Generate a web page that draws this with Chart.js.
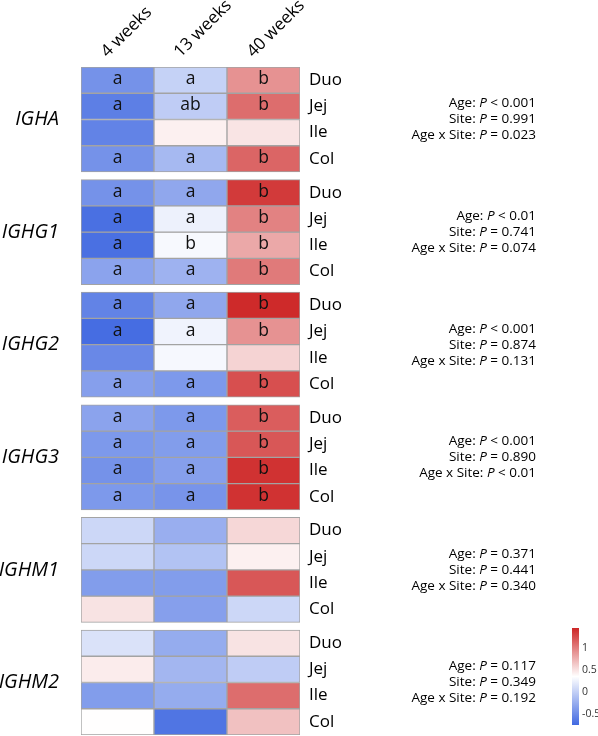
<!DOCTYPE html>
<html lang="en">
<head>
<meta charset="UTF-8">
<title>IGH heatmap</title>
<script src="https://cdn.jsdelivr.net/npm/chart.js"></script>
<style>
  html, body { margin: 0; padding: 0; background: #fff; }
  #wrap { width: 598px; height: 736px; }
</style>
</head>
<body>
<div id="wrap"><canvas id="heat" width="598" height="736"></canvas></div>
<script>
// columns, rows and blocks
const weeks = ['4 weeks', '13 weeks', '40 weeks'];
const sites = ['Duo', 'Jej', 'Ile', 'Col'];
const genes = ['IGHA', 'IGHG1', 'IGHG2', 'IGHG3', 'IGHM1', 'IGHM2'];

// scaled expression, one row per site: [4 wk, 13 wk, 40 wk]
const igha  = [[-0.45,  0.02, 0.91], [-0.59, -0.02, 1.10], [-0.56,  0.43, 0.49], [-0.45, -0.16, 1.14]];
const ighg1 = [[-0.45, -0.29, 1.36], [-0.70,  0.25, 0.99], [-0.70,  0.31, 0.80], [-0.32, -0.21, 1.03]];
const ighg2 = [[-0.56, -0.29, 1.44], [-0.72,  0.27, 0.91], [-0.52,  0.30, 0.58], [-0.35, -0.40, 1.25]];
const ighg3 = [[-0.32, -0.40, 1.18], [-0.40, -0.37, 1.21], [-0.45, -0.35, 1.40], [-0.40, -0.43, 1.40]];
const ighm1 = [[ 0.06, -0.24, 0.56], [ 0.06, -0.09, 0.43], [-0.37, -0.37, 1.21], [ 0.50, -0.35, 0.06]];
const ighm2 = [[ 0.14, -0.26, 0.50], [ 0.45, -0.18, -0.02], [-0.37, -0.26, 1.10], [ 0.36, -0.66, 0.67]];
const values = [igha, ighg1, ighg2, ighg3, ighm1, ighm2];

// significance letters
const lettersIgha  = [['a', 'a', 'b'], ['a', 'ab', 'b'], ['', '', ''], ['a', 'a', 'b']];
const lettersIghg1 = [['a', 'a', 'b'], ['a', 'a', 'b'], ['a', 'b', 'b'], ['a', 'a', 'b']];
const lettersIghg2 = [['a', 'a', 'b'], ['a', 'a', 'b'], ['', '', ''], ['a', 'a', 'b']];
const lettersIghg3 = [['a', 'a', 'b'], ['a', 'a', 'b'], ['a', 'a', 'b'], ['a', 'a', 'b']];
const lettersNone  = [['', '', ''], ['', '', ''], ['', '', ''], ['', '', '']];
const letters = [lettersIgha, lettersIghg1, lettersIghg2, lettersIghg3, lettersNone, lettersNone];

// two-way anova p values
const ageP   = ['< 0.001', '< 0.01', '< 0.001', '< 0.001', '= 0.371', '= 0.117'];
const siteP  = ['= 0.991', '= 0.741', '= 0.874', '= 0.890', '= 0.441', '= 0.349'];
const interP = ['= 0.023', '= 0.074', '= 0.131', '< 0.01', '= 0.340', '= 0.192'];

// colour key
const legendTicks = [1, 0.5, 0, -0.5];
const colorMin = -0.75;
const colorMax = 1.46;

const blockGap = 0.29;
const FONT = '"Open Sans", "Noto Sans", sans-serif';

function heatColor(v) {
    const mid = (colorMin + colorMax) / 2;
    let t, c0, c1;
    if (v < mid) {
        t = (v - colorMin) / (mid - colorMin);
        c0 = [65, 105, 225]; c1 = [255, 255, 255];
    } else {
        t = (v - mid) / (colorMax - mid);
        c0 = [255, 255, 255]; c1 = [205, 38, 38];
    }
    t = Math.max(0, Math.min(1, t));
    const c = c0.map((a, i) => Math.round(a + (c1[i] - a) * t));
    return 'rgb(' + c.join(',') + ')';
}

function rowTop(gi, si) {
    return gi * (sites.length + blockGap) + si;
}

const datasets = [];
genes.forEach((g, gi) => {
    sites.forEach((s, si) => {
        const top = rowTop(gi, si);
        datasets.push({
            label: g + ' ' + s,
            data: weeks.map(() => [top, top + 1]),
            backgroundColor: values[gi][si].map(heatColor),
            borderColor: '#a3a3a3',
            borderWidth: 1,
            borderSkipped: false,
            grouped: false,
            barPercentage: 1,
            categoryPercentage: 1,
            cellText: letters[gi][si]
        });
    });
});

// letters in the cells
const cellLetters = {
    id: 'cellLetters',
    afterDatasetsDraw(chart) {
        const ctx = chart.ctx;
        ctx.save();
        ctx.font = '17.5px ' + FONT;
        ctx.fillStyle = '#111';
        ctx.textAlign = 'center';
        ctx.textBaseline = 'middle';
        chart.data.datasets.forEach((ds, i) => {
            chart.getDatasetMeta(i).data.forEach((bar, j) => {
                const txt = ds.cellText[j];
                if (txt) ctx.fillText(txt, bar.x, (bar.y + bar.base) / 2 - 1);
            });
        });
        ctx.restore();
    }
};

// labels, p values and the colour key
const sideText = {
    id: 'sideText',
    afterDraw(chart) {
        const ctx = chart.ctx;
        const xs = chart.scales.x, ys = chart.scales.y;
        const area = chart.chartArea;
        ctx.save();
        ctx.fillStyle = '#000';

        // column headers
        ctx.font = '17px ' + FONT;
        ctx.textAlign = 'left';
        ctx.textBaseline = 'alphabetic';
        weeks.forEach((w, i) => {
            const cx = xs.getPixelForValue(i);
            ctx.save();
            ctx.translate(cx - 10, area.top - 9);
            ctx.rotate(-Math.PI / 4);
            ctx.fillText(w, 0, 0);
            ctx.restore();
        });

        genes.forEach((g, gi) => {
            const mid = ys.getPixelForValue(rowTop(gi, 0) + sites.length / 2);

            // gene name
            ctx.font = 'italic 20px ' + FONT;
            ctx.textAlign = 'right';
            ctx.textBaseline = 'middle';
            ctx.fillText(g, 59, mid);

            // site names
            ctx.font = '17px ' + FONT;
            ctx.textAlign = 'left';
            sites.forEach((s, si) => {
                const y = ys.getPixelForValue(rowTop(gi, si) + 0.5);
                ctx.fillText(s, area.right + 9, y);
            });

            // p values, right aligned
            const lines = [['Age: ', ageP[gi]], ['Site: ', siteP[gi]], ['Age x Site: ', interP[gi]]];
            const right = 536;
            lines.forEach((ln, k) => {
                const y = mid + (k - 1) * 16;
                const norm = '13.5px ' + FONT, ital = 'italic 13.5px ' + FONT;
                ctx.font = norm;
                const w1 = ctx.measureText(ln[0]).width;
                const w3 = ctx.measureText(' ' + ln[1]).width;
                ctx.font = ital;
                const w2 = ctx.measureText('P').width;
                let x = right - (w1 + w2 + w3);
                ctx.textAlign = 'left';
                ctx.font = norm; ctx.fillText(ln[0], x, y); x += w1;
                ctx.font = ital; ctx.fillText('P', x, y); x += w2;
                ctx.font = norm; ctx.fillText(' ' + ln[1], x, y);
            });
        });

        // colour key
        const kx = 572, kw = 7, kTop = 628, kBottom = 725;
        const grad = ctx.createLinearGradient(0, kBottom, 0, kTop);
        const steps = 20;
        for (let i = 0; i <= steps; i++) {
            grad.addColorStop(i / steps, heatColor(colorMin + (colorMax - colorMin) * i / steps));
        }
        ctx.fillStyle = grad;
        ctx.fillRect(kx, kTop, kw, kBottom - kTop);
        ctx.font = '10.5px ' + FONT;
        ctx.fillStyle = '#333';
        ctx.textAlign = 'left';
        ctx.textBaseline = 'middle';
        legendTicks.forEach(t => {
            const y = kBottom - (t - colorMin) / (colorMax - colorMin) * (kBottom - kTop);
            ctx.fillText(String(t), kx + kw + 3, y);
        });
        ctx.restore();
    }
};

new Chart(document.getElementById('heat'), {
    type: 'bar',
    data: { labels: weeks, datasets: datasets },
    options: {
        responsive: false,
        animation: false,
        devicePixelRatio: 1,
        layout: { padding: { left: 81, right: 298, top: 67, bottom: 1 } },
        plugins: { legend: { display: false }, tooltip: { enabled: false } },
        scales: {
            x: { type: 'category', display: false },
            y: {
                display: false,
                reverse: true,
                min: 0,
                max: genes.length * sites.length + (genes.length - 1) * blockGap
            }
        }
    },
    plugins: [cellLetters, sideText]
});
</script>
</body>
</html>
